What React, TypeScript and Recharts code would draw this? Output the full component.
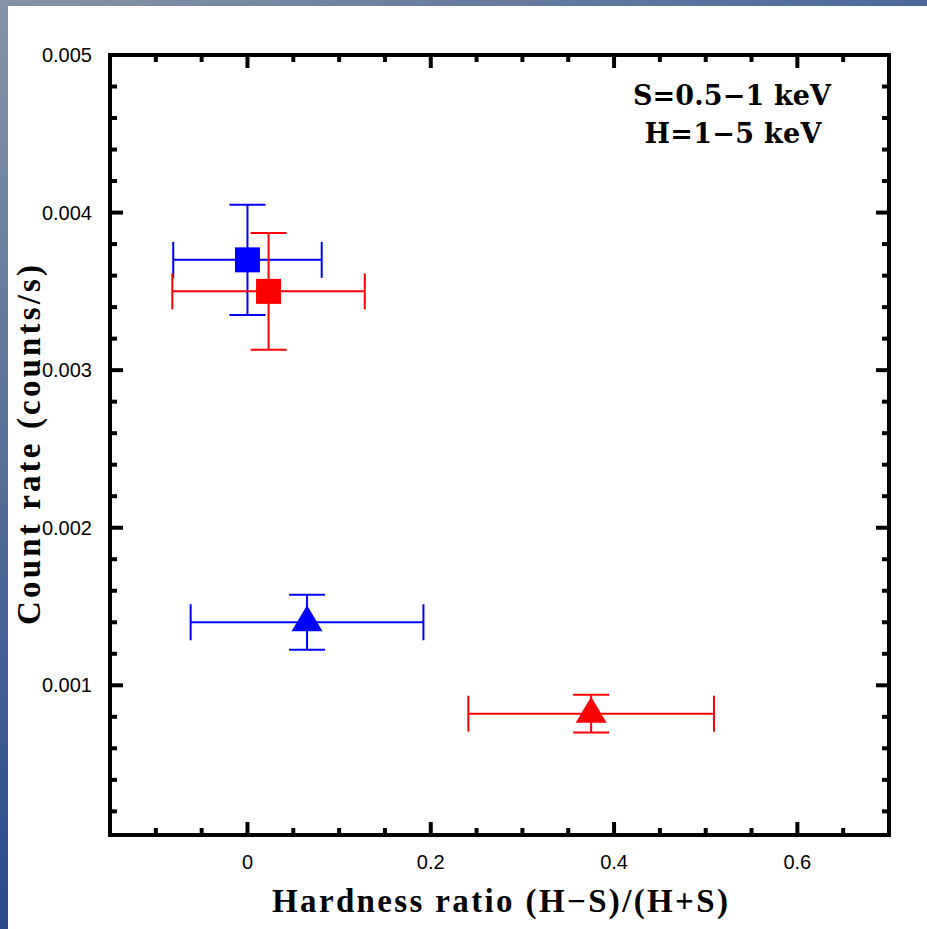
import React from "react";
import { ScatterChart, Scatter, XAxis, YAxis, ErrorBar, ReferenceArea } from "recharts";

// [blue, red] for each marker type
const seriesColors = ["#0000ff", "#ff0000"];

const squareHR = [0.0, 0.023];
const squareHRErr = [0.081, 0.105];
const squareRate = [0.0037, 0.0035];
const squareRateErr = [0.00035, 0.00037];

const triangleHR = [0.065, 0.375];
const triangleHRErr = [0.127, 0.134];
const triangleRate = [0.0014, 0.00082];
const triangleRateErr = [0.000175, 0.00012];

const xMajorTicks = [0, 0.2, 0.4, 0.6];
const xTickLabels = ["0", "0.2", "0.4", "0.6"];
const xMinorTicks = [-0.1, -0.05, 0.05, 0.1, 0.15, 0.25, 0.3, 0.35, 0.45, 0.5, 0.55, 0.65];

const yMajorTicks = [0.001, 0.002, 0.003, 0.004, 0.005];
const yTickLabels = ["0.001", "0.002", "0.003", "0.004", "0.005"];
const yMinorTicks = [
  0.0002, 0.0004, 0.0006, 0.0008, 0.0012, 0.0014, 0.0016, 0.0018, 0.0022, 0.0024,
  0.0026, 0.0028, 0.0032, 0.0034, 0.0036, 0.0038, 0.0042, 0.0044, 0.0046, 0.0048,
];

const X_DOMAIN: [number, number] = [-0.15, 0.7];
const Y_DOMAIN: [number, number] = [0.00005, 0.005];

const MAJOR = 13;
const MINOR = 7;
const tickFont = "'Liberation Sans', Arial, sans-serif";
const titleFont = "'Liberation Serif', 'Times New Roman', serif";

const squares = squareHR.map((x, i) => ({ x, y: squareRate[i], ex: squareHRErr[i], ey: squareRateErr[i] }));
const triangles = triangleHR.map((x, i) => ({ x, y: triangleRate[i], ex: triangleHRErr[i], ey: triangleRateErr[i] }));

function xTick(dir: number, label: boolean) {
  return (props: any) => {
    const { x, y, payload } = props;
    const mi = xMajorTicks.indexOf(payload.value);
    const len = mi >= 0 ? MAJOR : MINOR;
    return (
      <g>
        <line x1={x} y1={y} x2={x} y2={y + dir * len} stroke="#000" strokeWidth={4} />
        {label && mi >= 0 && (
          <text x={x} y={y + 34} textAnchor="middle" fontFamily={tickFont} fontSize={20} fill="#000">
            {xTickLabels[mi]}
          </text>
        )}
      </g>
    );
  };
}

function yTick(dir: number, label: boolean) {
  return (props: any) => {
    const { x, y, payload } = props;
    const mi = yMajorTicks.indexOf(payload.value);
    const len = mi >= 0 ? MAJOR : MINOR;
    return (
      <g>
        <line x1={x} y1={y} x2={x + dir * len} y2={y} stroke="#000" strokeWidth={4} />
        {label && mi >= 0 && (
          <text x={x - 18} y={y + 7} textAnchor="end" fontFamily={tickFont} fontSize={20} fill="#000">
            {yTickLabels[mi]}
          </text>
        )}
      </g>
    );
  };
}

const Square = (p: any) => <rect x={p.cx - 12.5} y={p.cy - 12.5} width={25} height={25} fill={p.fill} />;
const Triangle = (p: any) => (
  <polygon
    points={`${p.cx},${p.cy - 17} ${p.cx + 15.5},${p.cy + 9} ${p.cx - 15.5},${p.cy + 9}`}
    fill={p.fill}
  />
);

const allX = [...xMajorTicks, ...xMinorTicks];
const allY = [...yMajorTicks, ...yMinorTicks];

export default function App() {
  return (
    <div style={{ position: "absolute", left: 0, top: 0, width: 927, height: 929, background: "#fff", overflow: "hidden" }}>
      <div style={{ position: "absolute", left: 0, top: 0, width: 927, height: 6, background: "linear-gradient(to right, #8494a6, #4c6898)" }} />
      <div style={{ position: "absolute", left: 0, top: 0, width: 8, height: 929, background: "linear-gradient(to bottom, #8494a6, #2a4a8a)" }} />
      <div style={{ position: "absolute", left: 0, top: 0 }}>
        <ScatterChart width={927} height={929} margin={{ top: 54, right: 37, bottom: 93, left: 109 }}>
          <XAxis xAxisId="b" type="number" dataKey="x" domain={X_DOMAIN} allowDataOverflow ticks={allX} interval={0}
            height={1} tickSize={0} tickMargin={0} tickLine={false} axisLine={false} tick={xTick(-1, true)} />
          <XAxis xAxisId="t" orientation="top" type="number" dataKey="x" domain={X_DOMAIN} allowDataOverflow ticks={allX} interval={0}
            height={1} tickSize={0} tickMargin={0} tickLine={false} axisLine={false} tick={xTick(1, false)} />
          <YAxis yAxisId="l" type="number" dataKey="y" domain={Y_DOMAIN} allowDataOverflow ticks={allY} interval={0}
            width={1} tickSize={0} tickMargin={0} tickLine={false} axisLine={false} tick={yTick(1, true)} />
          <YAxis yAxisId="r" orientation="right" type="number" dataKey="y" domain={Y_DOMAIN} allowDataOverflow ticks={allY} interval={0}
            width={1} tickSize={0} tickMargin={0} tickLine={false} axisLine={false} tick={yTick(-1, false)} />
          <ReferenceArea xAxisId="b" yAxisId="l" x1={X_DOMAIN[0]} x2={X_DOMAIN[1]} y1={Y_DOMAIN[0]} y2={Y_DOMAIN[1]}
            fill="none" stroke="#000" strokeWidth={4} ifOverflow="visible" />
          {squares.map((d, i) => (
            <Scatter key={"s" + i} xAxisId="b" yAxisId="l" data={[d]} fill={seriesColors[i]} shape={Square} isAnimationActive={false}>
              <ErrorBar dataKey="ex" direction="x" width={18} stroke={seriesColors[i]} strokeWidth={2} isAnimationActive={false} />
              <ErrorBar dataKey="ey" direction="y" width={18} stroke={seriesColors[i]} strokeWidth={2} isAnimationActive={false} />
            </Scatter>
          ))}
          {triangles.map((d, i) => (
            <Scatter key={"t" + i} xAxisId="b" yAxisId="l" data={[d]} fill={seriesColors[i]} shape={Triangle} isAnimationActive={false}>
              <ErrorBar dataKey="ex" direction="x" width={18} stroke={seriesColors[i]} strokeWidth={2} isAnimationActive={false} />
              <ErrorBar dataKey="ey" direction="y" width={18} stroke={seriesColors[i]} strokeWidth={2} isAnimationActive={false} />
            </Scatter>
          ))}
          <text x={732} y={105} textAnchor="middle" fontFamily="'DejaVu Serif', serif" fontWeight="bold" fontSize={27}
            textLength={198} lengthAdjust="spacing">S=0.5−1 keV</text>
          <text x={733} y={143} textAnchor="middle" fontFamily="'DejaVu Serif', serif" fontWeight="bold" fontSize={27}
            textLength={177} lengthAdjust="spacing">H=1−5 keV</text>
          <text x={500} y={912} textAnchor="middle" fontFamily={titleFont} fontWeight="bold" fontSize={33}
            textLength={456} lengthAdjust="spacing">Hardness ratio (H−S)/(H+S)</text>
          <text x={40} y={445} transform="rotate(-90 40 445)" textAnchor="middle" fontFamily={titleFont} fontWeight="bold" fontSize={33}
            textLength={360} lengthAdjust="spacing">Count rate (counts/s)</text>
        </ScatterChart>
      </div>
    </div>
  );
}
